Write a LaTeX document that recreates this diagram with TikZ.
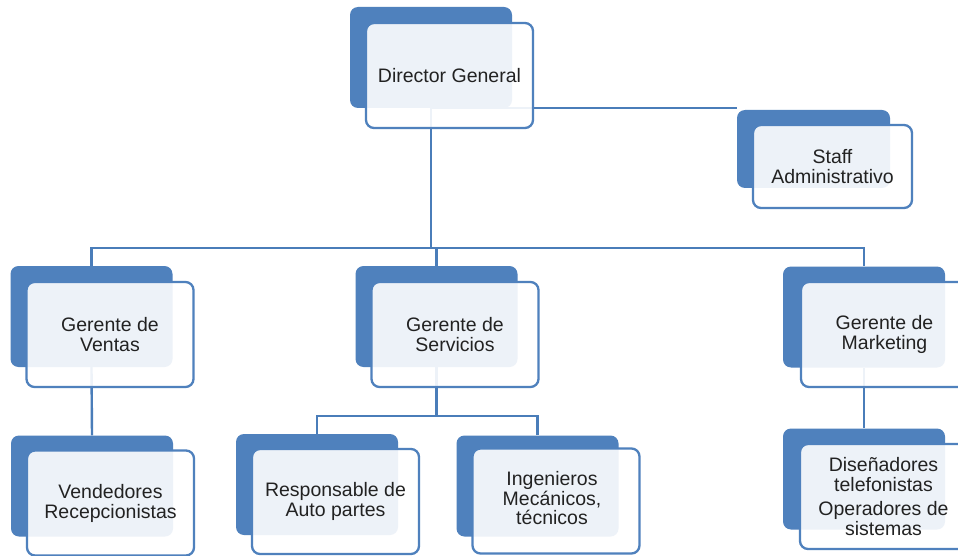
\documentclass[tikz,border=0pt]{standalone}
\usepackage{fontspec}
\setmainfont{Liberation Sans}
\definecolor{boxblue}{HTML}{4F81BD}
\definecolor{lineblue}{HTML}{4A7DB9}
\definecolor{txt}{HTML}{222222}
\pgfdeclarelayer{bg}
\pgfsetlayers{bg,main}
\tikzset{
  backbox/.style={fill=boxblue, draw=none, rounded corners=8pt, minimum width=162pt, minimum height=101pt, inner sep=0pt},
  frontbox/.style={fill=white, fill opacity=0.9, text opacity=1, draw=boxblue, line width=2.3pt, rounded corners=8pt,
    minimum width=167pt, minimum height=105pt, inner sep=0pt, align=center, text=txt,
    font=\fontsize{19.5}{20}\selectfont},
  conn/.style={draw=lineblue, line width=2.4pt}
}
\begin{document}
\begin{tikzpicture}[x=1pt,y=-1pt]
\clip (0,0) rectangle (958,556);
% Director General
\node[backbox] (dgb) at (431,57.5) {};
\node[frontbox] (dg) at (449.5,75.5) {Director General};
% Staff
\node[backbox, minimum width=153pt, minimum height=78pt] (stb) at (813.5,149) {};
\node[frontbox, minimum width=159pt, minimum height=83pt] (st) at (832.5,166.5) {Staff\\Administrativo};
% Gerentes
\node[backbox] (gvb) at (91.5,316.5) {};
\node[frontbox] (gv) at (110,334.5) {Gerente de\\Ventas};
\node[backbox] (gsb) at (436.5,316.5) {};
\node[frontbox] (gs) at (455,334.5) {Gerente de\\Servicios};
\node[backbox] (gmb) at (864,317) {};
\node[frontbox] (gm) at (884.5,334.5) {Gerente de\\Marketing};
% Lower level
\node[backbox] (vrb) at (92,486) {};
\node[frontbox] (vr) at (110.5,503) {Vendedores\\Recepcionistas};
\node[backbox] (rab) at (317,484.5) {};
\node[frontbox] (ra) at (335.5,501.5) {Responsable de\\Auto partes};
\node[backbox] (imb) at (537.5,486) {};
\node[frontbox, font=\fontsize{19.5}{20}\selectfont] (im) at (556,501) {\hspace*{-8pt}\begin{tabular}{@{}c@{}}Ingenieros\\[-1pt]Mec\'anicos,\\[-1pt]t\'ecnicos\end{tabular}};
\node[backbox] (dtb) at (864,479) {};
\node[frontbox, font=\fontsize{19.5}{19.5}\selectfont] (dt) at (883.5,496.5) {Dise\~nadores\\telefonistas\\[5pt]Operadores de\\sistemas};
% junctions
\coordinate (j0) at (431,248);
\coordinate (j1) at (436.5,416);
\begin{pgfonlayer}{bg}
\fill[white] (0,0) rectangle (958,556);
\draw[conn] (dgb.south) -- (j0);
\draw[conn] (dgb.south) -- (dgb.south -| stb.west);
\draw[conn] (gvb.north) |- (gmb.north |- j0) -- (gmb.north);
\draw[conn] (gsb.north |- j0) -- (gsb.north);
\draw[conn] (gvb.south) -- (vrb.north);
\draw[conn] (gsb.south) -- (j1);
\draw[conn] (rab.north) |- (imb.north |- j1) -- (imb.north);
\draw[conn] (gmb.south) -- (dtb.north);
\end{pgfonlayer}
\end{tikzpicture}
\end{document}
